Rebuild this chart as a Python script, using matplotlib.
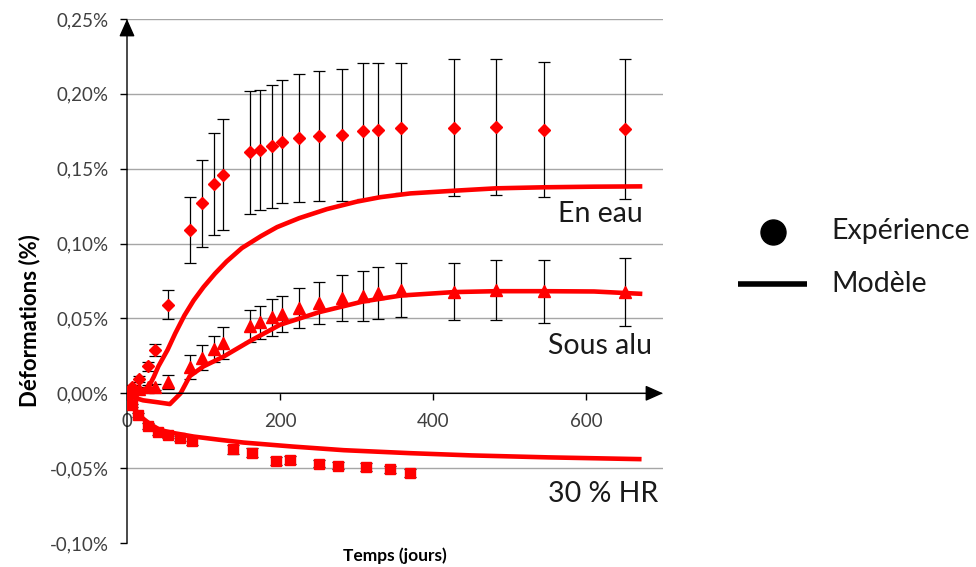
import matplotlib
matplotlib.use("Agg")
import matplotlib.pyplot as plt
from matplotlib.lines import Line2D

plt.rcParams['font.family'] = ['Lato', 'DejaVu Sans']

# ---------------- data (strain in %) ----------------
days_exp = [0, 7, 16, 27, 36, 53, 82, 98, 114, 126, 161, 174, 190, 202, 225,
            251, 281, 308, 328, 358, 427, 482, 545, 650]
eau = [0.000, 0.004, 0.0095, 0.018, 0.029, 0.059, 0.109, 0.127, 0.140, 0.146,
       0.161, 0.1625, 0.165, 0.168, 0.1705, 0.172, 0.1725, 0.1751, 0.1758,
       0.177, 0.1774, 0.1777, 0.1761, 0.1764]
eau_err = [0.000, 0.0015, 0.002, 0.003, 0.004, 0.0097, 0.022, 0.029, 0.034,
           0.037, 0.041, 0.040, 0.041, 0.041, 0.0425, 0.0433, 0.0438, 0.0453,
           0.0445, 0.0435, 0.0456, 0.0453, 0.045, 0.0466]
alu = [0.000, 0.002, 0.003, 0.004, 0.004, 0.0075, 0.0176, 0.0237, 0.0295,
       0.0336, 0.0448, 0.0473, 0.0507, 0.0528, 0.057, 0.0603, 0.0638, 0.0651,
       0.067, 0.0689, 0.0678, 0.069, 0.0681, 0.0677]
alu_err = [0.000, 0.001, 0.0015, 0.0015, 0.002, 0.0045, 0.0078, 0.0084,
           0.0086, 0.0105, 0.0106, 0.0113, 0.0122, 0.0119, 0.0134, 0.0143,
           0.0155, 0.0165, 0.0172, 0.018, 0.0191, 0.0203, 0.0212, 0.0228]

days_hr = [0, 7, 15, 27, 41, 53, 69, 85, 139, 163, 194, 213, 251, 275, 312,
           343, 370]
hr = [0.000, -0.008, -0.0145, -0.0218, -0.0258, -0.028, -0.0302, -0.0318,
      -0.0373, -0.0398, -0.0453, -0.0447, -0.0469, -0.0484, -0.0491, -0.0509,
      -0.0531]
hr_err = [0.000, 0.001, 0.0015, 0.002, 0.002, 0.002, 0.002, 0.0025, 0.003,
          0.003, 0.0025, 0.0025, 0.0025, 0.0025, 0.0025, 0.0025, 0.0025]

model_eau_days = [0, 10, 20, 28, 35, 41, 53, 63, 75, 87, 100, 115, 130, 150,
                  175, 196, 225, 261, 300, 331, 370, 427, 482, 545, 610, 673]
model_eau = [0.000, 0.001, 0.002, 0.004, 0.011, 0.018, 0.029, 0.040, 0.052,
             0.062, 0.071, 0.080, 0.088, 0.097, 0.105, 0.111, 0.117, 0.123,
             0.128, 0.131, 0.1335, 0.1353, 0.1369, 0.1376, 0.138, 0.1382]

model_alu_days = [0, 10, 21, 40, 56, 70, 82, 100, 126, 161, 200, 251, 308,
                  358, 427, 482, 545, 610, 673]
model_alu = [0.000, -0.003, -0.0047, -0.006, -0.0072, 0.000, 0.0115, 0.018,
             0.0245, 0.035, 0.0458, 0.0542, 0.0613, 0.0653, 0.0676, 0.0682,
             0.0682, 0.068, 0.0664]

model_hr_days = [0, 5, 10, 15, 20, 30, 43, 60, 87, 120, 152, 217, 283, 370,
                 450, 550, 672]
model_hr = [0.000, -0.006, -0.0105, -0.0136, -0.0165, -0.0205, -0.0245,
            -0.0265, -0.0289, -0.031, -0.0329, -0.0356, -0.038, -0.040,
            -0.0415, -0.0428, -0.044]

yticks = [-0.10, -0.05, 0.00, 0.05, 0.10, 0.15, 0.20, 0.25]
xticks = [0, 200, 400, 600]

series_labels = ["En eau", "Sous alu", "30 % HR"]
legend_labels = ["Expérience", "Modèle"]

# ---------------- figure ----------------
W, H = 976, 567
fig = plt.figure(figsize=(W / 100, H / 100), dpi=100)
ax = fig.add_axes([127 / W, 1 - 543 / H, (663 - 127) / W, (543 - 19) / H])
ax.set_xlim(0, 700)
ax.set_ylim(-0.10, 0.25)

RED = '#ff0000'
ekw = dict(fmt='none', ecolor='black', elinewidth=0.9, capsize=4.3,
           capthick=0.9, zorder=2)
ax.errorbar(days_exp, eau, yerr=eau_err, **ekw)
ax.errorbar(days_exp, alu, yerr=alu_err, **ekw)
ax.errorbar(days_hr, hr, yerr=hr_err, **ekw)

lkw = dict(color=RED, lw=3.3, solid_capstyle='butt', solid_joinstyle='round',
           zorder=3)
ax.plot(model_eau_days, model_eau, **lkw)
ax.plot(model_alu_days, model_alu, **lkw)
ax.plot(model_hr_days, model_hr, **lkw)

ax.plot(days_exp, eau, 'D', color=RED, ms=6.4, mec=RED, zorder=4)
ax.plot(days_exp, alu, '^', color=RED, ms=9, mec=RED, zorder=4)
ax.plot(days_hr, hr, 's', color=RED, ms=7.5, mec=RED, zorder=4)

# axes styling
ax.set_yticks(yticks)
ax.set_yticklabels([(f"{v:.2f}%").replace('.', ',') for v in yticks])
ax.set_xticks(xticks)
ax.set_xticklabels([str(v) for v in xticks])
ax.yaxis.grid(True, color='#a6a6a6', lw=1.0, zorder=0)
ax.yaxis.get_gridlines()[0].set_visible(False)
ax.set_axisbelow(True)
for s in ['top', 'right', 'left', 'bottom']:
    ax.spines[s].set_visible(False)
ax.spines['bottom'].set_position(('data', 0))
ax.tick_params(axis='y', direction='out', length=5, width=1, pad=8,
               labelsize=13.5, labelcolor='#404040')
ax.tick_params(axis='x', direction='out', length=5, width=1, pad=9,
               labelsize=13.5, labelcolor='#404040')

arrow = dict(arrowstyle='-|>,head_length=0.45,head_width=0.2', color='black',
             lw=1.0, mutation_scale=24, shrinkA=0, shrinkB=0)
ax.annotate('', xy=(1, 0), xycoords=('axes fraction', 'data'),
            xytext=(0, 0), textcoords=('axes fraction', 'data'),
            arrowprops=arrow, annotation_clip=False)
ax.annotate('', xy=(0, 1), xycoords='axes fraction',
            xytext=(0, 0), textcoords='axes fraction',
            arrowprops=arrow, annotation_clip=False)

# series labels
tkw = dict(fontsize=20.5, va='baseline', ha='left', color='#1a1a1a')
fig.text(558 / W, 1 - 222 / H, series_labels[0], **tkw)
fig.text(548 / W, 1 - 354 / H, series_labels[1], **tkw)
fig.text(548 / W, 1 - 502 / H, series_labels[2], **tkw)

# axis titles
fig.text(395 / W, 1 - 556 / H, 'Temps (jours)', fontsize=12.5,
         fontweight='bold', ha='center', va='center')
fig.text(30 / W, 1 - 321 / H, 'Déformations (%)', fontsize=16,
         fontweight='bold', ha='center', va='center', rotation=90)

# legend
fig.add_artist(Line2D([773 / W], [1 - 232 / H], marker='o', ms=18,
                      color='black', transform=fig.transFigure))
fig.add_artist(Line2D([738 / W, 807 / W], [1 - 284 / H, 1 - 284 / H],
                      lw=4, color='black', transform=fig.transFigure,
                      solid_capstyle='butt'))
fig.text(831 / W, 1 - 239.3 / H, legend_labels[0], **tkw)
fig.text(831 / W, 1 - 291.7 / H, legend_labels[1], **tkw)

fig.savefig('out.png', dpi=100)
